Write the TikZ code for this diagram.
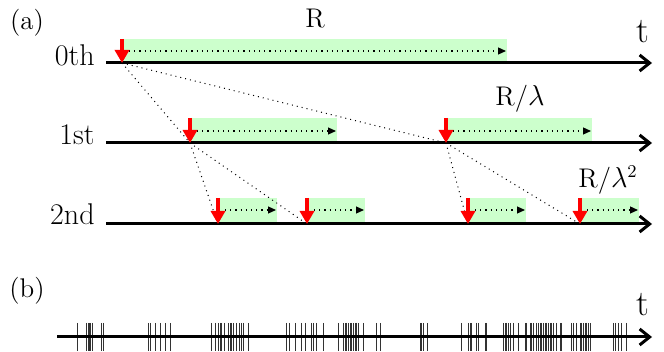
\documentclass[tikz,border=0pt]{standalone}
\usepackage{amsmath}
\usepackage{fontspec}
\usepackage{tikz}
\usetikzlibrary{arrows.meta}

\begin{document}
\begin{tikzpicture}[x=0.5pt,y=-0.5pt,
axisline/.style={black, line width=1.5pt, -{Straight Barb[length=5pt,width=8pt]}},
window/.style={fill=green!20, draw=none},
spanarr/.style={black, dotted, line width=0.6pt, -{Triangle[length=4pt,width=3.5pt]}},
redarr/.style={red, line width=2.4pt, -{Triangle[length=6.5pt,width=7pt]}},
genline/.style={black, dotted, line width=0.5pt},
spike/.style={black!80, line width=0.5pt},
biglab/.style={font=\fontsize{15}{18}\selectfont, inner sep=0pt},
smalllab/.style={font=\fontsize{13.5}{16}\selectfont, inner sep=0pt},
tlab/.style={font=\fontsize{18}{21}\selectfont, inner sep=0pt}]

\useasboundingbox (0,0) rectangle (664,352);

\begin{scope}
{
% axes
\coordinate (a0s) at (106,63);  \coordinate (a0e) at (652,63);
\coordinate (a1s) at (106,143); \coordinate (a1e) at (652,143);
\coordinate (a2s) at (106,224); \coordinate (a2e) at (652,224);

% event points
\coordinate (e0) at (122,63);
\coordinate (e1a) at (190,143);
\coordinate (e1b) at (446,143);
\coordinate (e2a) at (218,224);
\coordinate (e2b) at (307,224);
\coordinate (e2c) at (468,224);
\coordinate (e2d) at (580,224);

% green windows
\fill[window] (e0) ++(0,-24) rectangle ++(385,23);
\fill[window] (e1a) ++(0,-25) rectangle ++(147,24);
\fill[window] (e1b) ++(0,-25) rectangle ++(146,24);
\fill[window] (e2a) ++(0,-26) rectangle ++(59,25);
\fill[window] (e2b) ++(0,-26) rectangle ++(58,25);
\fill[window] (e2c) ++(0,-26) rectangle ++(58,25);
\fill[window] (e2d) ++(0,-26) rectangle ++(59,25);

\draw[spanarr] (e0) ++(7,-12) -- ++(377,0);
\draw[spanarr] (e1a) ++(7,-12) -- ++(139,0);
\draw[spanarr] (e1b) ++(7,-12) -- ++(138,0);
\draw[spanarr] (e2a) ++(7,-14) -- ++(51,0);
\draw[spanarr] (e2b) ++(7,-14) -- ++(50,0);
\draw[spanarr] (e2c) ++(7,-14) -- ++(50,0);
\draw[spanarr] (e2d) ++(7,-14) -- ++(51,0);

\draw[axisline] (a0s) -- (a0e);
\draw[axisline] (a1s) -- (a1e);
\draw[axisline] (a2s) -- (a2e);

% dotted lines
\draw[genline] (e0) -- (e1a);
\draw[genline] (e0) -- (e1b);
\draw[genline] (e1a) -- (e2a);
\draw[genline] (e1a) -- (e2b);
\draw[genline] (e1b) -- (e2c);
\draw[genline] (e1b) -- (e2d);

% red arrows
\draw[redarr] (e0) ++(0,-24) -- (e0);
\draw[redarr] (e1a) ++(0,-25) -- (e1a);
\draw[redarr] (e1b) ++(0,-25) -- (e1b);
\draw[redarr] (e2a) ++(0,-26) -- (e2a);
\draw[redarr] (e2b) ++(0,-26) -- (e2b);
\draw[redarr] (e2c) ++(0,-26) -- (e2c);
\draw[redarr] (e2d) ++(0,-26) -- (e2d);

\node[biglab, anchor=base east] (lab0) at (95,66) {0th};
\node[biglab, anchor=base east] (lab1) at (95,145) {1st};
\node[biglab, anchor=base east] (lab2) at (95,225) {2nd};

\node[smalllab, anchor=base] (rlab0) at (315,28) {R};
\node[smalllab, anchor=base] (rlab1) at (520,106) {R/$\lambda$};
\node[smalllab, anchor=base] (rlab2) at (608,188) {R/$\lambda^2$};

\node[tlab, anchor=base] (ta) at (643,43) {t};
\node[smalllab, anchor=base] (pa) at (27,30) {(a)};
}
\end{scope}

\begin{scope}
{
\coordinate (bs) at (57,337); \coordinate (be) at (652,337);

% spikes
\foreach \sx in {77.3, 86.7, 88, 89.3, 90.7, 92.7, 101.7, 103.3, 148.3, 150, 155, 160, 165, 170,
211.7, 215, 218.3, 220, 221.7, 224, 228.3, 230, 231.7, 233.3, 236.7, 239.3, 241.7, 243.3, 248.3,
286.7, 289.3, 295, 301.7, 305, 311.7, 313.3, 316.7, 323.3, 338.3, 343.3, 345, 346.7, 348.3, 350,
351, 353.3, 355, 356, 358.3, 363.3, 376, 380, 420, 421.7, 423.3, 427.3, 461.7, 468.3, 470, 471.7,
476.7, 478.3, 485, 486.7, 503.3, 505, 506.7, 508.3, 510, 513.3, 518.3, 525, 526.7, 530, 531.7,
533.3, 536.7, 538.3, 540, 541.7, 543.3, 545, 546.7, 548.3, 550, 551.7, 553.3, 556.7, 560, 561.7,
571.7, 573.3, 576.7, 580, 581.7, 583.3, 585, 586.7, 588.3, 590, 613.3, 615, 618.3, 621.7, 626.7}
{
\draw[spike] (\sx,323) -- (\sx,351);
}

\draw[axisline] (bs) -- (be);

\node[tlab, anchor=base] (tb) at (643,315) {t};
\node[smalllab, anchor=base] (pb) at (27,298) {(b)};
}
\end{scope}

\end{tikzpicture}
\end{document}
